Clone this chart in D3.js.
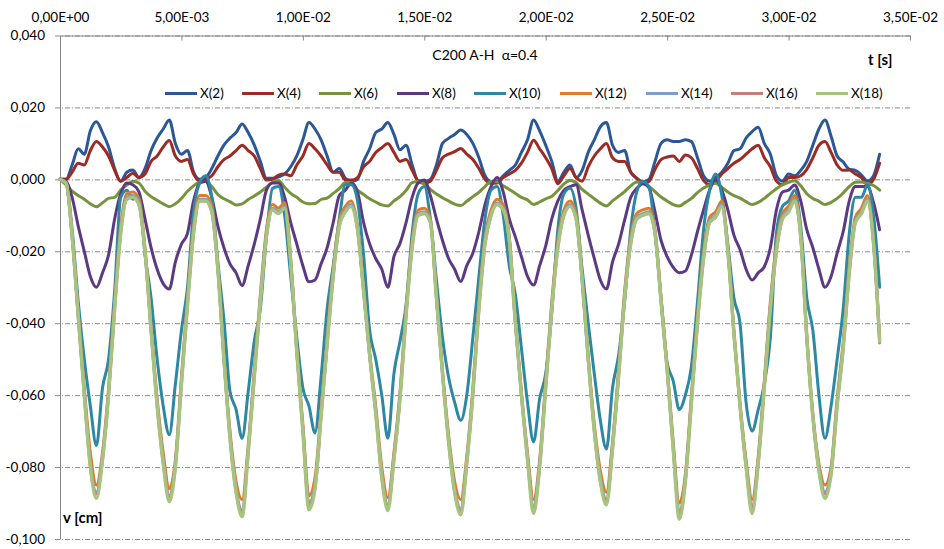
<!DOCTYPE html>
<html><head><meta charset="utf-8">
<script src="https://cdn.jsdelivr.net/npm/d3@7/dist/d3.min.js"></script>
<style>
body{margin:0;background:#fff}
svg{display:block}
text{font-family:Lato,"Open Sans",sans-serif;fill:#000}
</style></head>
<body><svg id="chart" width="944" height="549"></svg>
<script>
// ---------- data ----------
const xTicks = [0, 0.005, 0.01, 0.015, 0.02, 0.025, 0.03, 0.035];
const xTickLabels = ["0,00E+00","5,00E-03","1,00E-02","1,50E-02","2,00E-02","2,50E-02","3,00E-02","3,50E-02"];
const yTicks = [0.04, 0.02, 0, -0.02, -0.04, -0.06, -0.08, -0.1];
const yTickLabels = ["0,040","0,020","0,000","-0,020","-0,040","-0,060","-0,080","-0,100"];
const seriesNames = ["X(2)","X(4)","X(6)","X(8)","X(10)","X(12)","X(14)","X(16)","X(18)"];
const seriesColors = ["#2B5797","#9C2A25","#77933C","#5B3A82","#2D88A3","#E07B28","#7E9DCF","#C97D7B","#A7C47F"];
const titleText = "C200 A-H  \u03b1=0.4";

const t = [
0,0.00025,0.0005,0.00075,0.001,0.00125,0.0015,0.00175,0.002,0.00225,
0.0025,0.00275,0.003,0.00325,0.0035,0.00375,0.004,0.00425,0.0045,0.00475,
0.005,0.00525,0.0055,0.00575,0.006,0.00625,0.0065,0.00675,0.007,0.00725,
0.0075,0.00775,0.008,0.00825,0.0085,0.00875,0.009,0.00925,0.0095,0.00975,
0.01,0.01025,0.0105,0.01075,0.011,0.01125,0.0115,0.01175,0.012,0.01225,
0.0125,0.01275,0.013,0.01325,0.0135,0.01375,0.014,0.01425,0.0145,0.01475,
0.015,0.01525,0.0155,0.01575,0.016,0.01625,0.0165,0.01675,0.017,0.01725,
0.0175,0.01775,0.018,0.01825,0.0185,0.01875,0.019,0.01925,0.0195,0.01975,
0.02,0.02025,0.0205,0.02075,0.021,0.02125,0.0215,0.02175,0.022,0.02225,
0.0225,0.02275,0.023,0.02325,0.0235,0.02375,0.024,0.02425,0.0245,0.02475,
0.025,0.02525,0.0255,0.02575,0.026,0.02625,0.0265,0.02675,0.027,0.02725,
0.0275,0.02775,0.028,0.02825,0.0285,0.02875,0.029,0.02925,0.0295,0.02975,
0.03,0.03025,0.0305,0.03075,0.031,0.03125,0.0315,0.03175,0.032,0.03225,
0.0325,0.03275,0.033,0.03325,0.0335,0.03375];

const x2 = [
0,0,0.004,0.0085,0.007,0.0135,0.016,0.013,0.009,0.003,
-0.0005,0.002,0.0026,0.0005,0.003,0.008,0.0115,0.014,0.0165,0.010,
0.007,0.008,0.002,0,0.0005,0.003,0.0065,0.0095,0.0115,0.013,
0.0154,0.013,0.0095,0.005,0.0003,0.0003,0.0007,0.0015,0.0035,0.0065,
0.011,0.0158,0.014,0.011,0.0065,0.002,0.003,0.0003,-0.0005,0,
0.005,0.0085,0.013,0.014,0.0158,0.0125,0.0082,0.0095,0.004,-0.0004,
-0.0006,0,0.004,0.010,0.0114,0.0125,0.0137,0.0125,0.010,0.006,
0.001,-0.0006,-0.0006,0.001,0.0025,0.004,0.0075,0.011,0.0165,0.0135,
0.0095,0.005,-0.0005,0.002,0.004,0.0005,0.0025,0.0075,0.011,0.0146,
0.0158,0.0095,0.0075,0.008,0.002,0.0003,-0.0006,0,0.005,0.010,
0.011,0.0105,0.0105,0.011,0.0105,0.006,0.001,-0.0005,0.0005,0.002,
0.0045,0.008,0.0085,0.0115,0.0133,0.0145,0.010,0.007,0.001,-0.0005,
0.0015,0.001,0.0025,0.005,0.0095,0.014,0.0165,0.012,0.0065,0.0048,
0.0028,0.0025,0.0012,-0.0005,0.001,0.007];

const x4 = [
0,0,0.002,0.0045,0.004,0.008,0.0105,0.009,0.0065,0.0025,
-0.0005,0.0005,0.0017,0.0005,0.0015,0.005,0.0065,0.009,0.0108,0.0065,
0.005,0.0055,0.0015,-0.0005,0,0.001,0.0035,0.0055,0.0065,0.008,
0.0095,0.008,0.0065,0.003,-0.0002,0,0.0012,0.0015,0.001,0.004,
0.0065,0.010,0.0085,0.0065,0.004,0.002,0.002,-0.0002,-0.0002,0.0005,
0.0035,0.005,0.0075,0.0088,0.010,0.0075,0.005,0.0055,0.0025,-0.0005,
-0.0011,-0.0005,0.0025,0.006,0.007,0.0077,0.0086,0.007,0.0055,0.003,
0,-0.0011,-0.001,0.0005,0.0015,0.0025,0.0045,0.0075,0.0109,0.0085,
0.006,0.003,-0.0012,0.001,0.003,0.0005,-0.0005,0.0035,0.0065,0.0085,
0.010,0.006,0.005,0.005,0.002,0.0003,-0.0011,-0.0006,0.0028,0.0055,
0.0062,0.0065,0.005,0.0068,0.006,0.003,-0.0003,-0.0015,-0.0005,0.0015,
0.003,0.0045,0.0055,0.007,0.0085,0.0095,0.006,0.0035,-0.0005,-0.0015,
0.0005,0.0005,0.001,0.0028,0.006,0.0095,0.0105,0.0075,0.004,0.0025,
0.0026,0.0015,0.0005,-0.0015,0,0.0045];

const x6 = [
0,-0.0015,-0.0033,-0.0045,-0.0055,-0.0068,-0.0076,-0.0065,-0.0053,-0.005,
-0.003,-0.0016,-0.0005,-0.001,-0.0033,-0.0048,-0.0058,-0.0068,-0.0076,-0.0068,
-0.0053,-0.0033,-0.0018,-0.0008,-0.0006,-0.002,-0.0042,-0.0054,-0.0062,-0.0071,
-0.0068,-0.0056,-0.0046,-0.0035,-0.0022,-0.0008,-0.0004,-0.0022,-0.0039,-0.005,
-0.0063,-0.0068,-0.0067,-0.0056,-0.0052,-0.0039,-0.0026,-0.0009,-0.0009,-0.003,
-0.0042,-0.0054,-0.0063,-0.0071,-0.0074,-0.006,-0.0048,-0.0031,-0.0009,-0.0006,
-0.0013,-0.0028,-0.0041,-0.0051,-0.006,-0.0069,-0.0073,-0.0061,-0.0048,-0.0036,
-0.002,-0.0006,-0.0007,-0.0018,-0.0028,-0.0039,-0.005,-0.0057,-0.007,-0.0063,
-0.0054,-0.0047,-0.0031,-0.0013,-0.0003,-0.0009,-0.0028,-0.0041,-0.0054,-0.0066,
-0.0074,-0.006,-0.0047,-0.0034,-0.0018,-0.0007,-0.0009,-0.002,-0.0034,-0.0049,
-0.006,-0.007,-0.0074,-0.0064,-0.0053,-0.0037,-0.0024,-0.0016,-0.0011,-0.0022,
-0.0035,-0.0045,-0.0052,-0.0062,-0.007,-0.0064,-0.0053,-0.0039,-0.0026,-0.0015,
-0.0008,-0.0004,-0.0018,-0.004,-0.0053,-0.0061,-0.007,-0.0064,-0.0053,-0.0038,
-0.002,-0.0008,-0.0007,-0.0012,-0.0017,-0.003];

const x8 = [
0,-0.0005,-0.005,-0.013,-0.020,-0.027,-0.030,-0.026,-0.021,-0.011,
-0.004,-0.001,-0.0015,-0.0035,-0.011,-0.019,-0.025,-0.029,-0.0305,-0.023,
-0.018,-0.015,-0.006,-0.001,-0.0005,-0.005,-0.013,-0.019,-0.0235,-0.026,
-0.0295,-0.024,-0.018,-0.011,-0.003,-0.001,-0.001,-0.005,-0.012,-0.018,
-0.024,-0.0285,-0.028,-0.0235,-0.019,-0.012,-0.0045,-0.003,-0.001,-0.0035,
-0.012,-0.018,-0.022,-0.025,-0.030,-0.0215,-0.0178,-0.012,-0.005,-0.001,
-0.0002,-0.0045,-0.011,-0.017,-0.022,-0.025,-0.0284,-0.024,-0.0205,-0.0145,
-0.007,-0.002,0.0005,-0.0035,-0.011,-0.016,-0.0215,-0.027,-0.0294,-0.024,
-0.0185,-0.011,-0.006,-0.003,-0.002,-0.0015,-0.0085,-0.0155,-0.022,-0.028,
-0.0305,-0.023,-0.018,-0.0113,-0.005,-0.0025,-0.0012,-0.0023,-0.009,-0.017,
-0.0215,-0.0245,-0.026,-0.0255,-0.021,-0.0145,-0.0085,-0.003,0,-0.003,
-0.0085,-0.0155,-0.0195,-0.025,-0.028,-0.026,-0.0243,-0.019,-0.0085,-0.0035,
-0.003,-0.0016,-0.006,-0.014,-0.019,-0.025,-0.030,-0.027,-0.0205,-0.0145,
-0.006,-0.002,-0.002,-0.002,-0.0065,-0.014];

const x10 = [
0,-0.001,-0.014,-0.034,-0.050,-0.063,-0.074,-0.058,-0.050,-0.031,
-0.005,-0.003,-0.0055,-0.005,-0.021,-0.033,-0.050,-0.063,-0.071,-0.057,
-0.042,-0.030,-0.009,-0.001,0.001,-0.005,-0.023,-0.039,-0.059,-0.064,
-0.072,-0.059,-0.045,-0.036,-0.016,-0.0025,-0.002,-0.010,-0.027,-0.044,
-0.058,-0.063,-0.0705,-0.055,-0.036,-0.024,-0.011,-0.0015,-0.0015,-0.006,
-0.021,-0.042,-0.050,-0.060,-0.072,-0.054,-0.045,-0.035,-0.015,-0.004,
-0.002,-0.011,-0.028,-0.044,-0.055,-0.062,-0.067,-0.060,-0.044,-0.027,
-0.011,-0.003,-0.002,-0.010,-0.024,-0.032,-0.047,-0.062,-0.073,-0.061,
-0.054,-0.037,-0.014,-0.004,-0.0025,-0.008,-0.025,-0.040,-0.054,-0.067,
-0.075,-0.058,-0.049,-0.034,-0.014,-0.0035,-0.0006,-0.002,-0.015,-0.033,
-0.051,-0.056,-0.064,-0.060,-0.052,-0.034,-0.014,-0.003,0.0015,-0.0045,
-0.018,-0.033,-0.040,-0.062,-0.070,-0.064,-0.057,-0.044,-0.015,-0.0075,
-0.006,-0.003,-0.013,-0.033,-0.042,-0.060,-0.072,-0.063,-0.050,-0.036,
-0.015,-0.005,-0.005,-0.0016,-0.010,-0.030];

const x12 = [
0,-0.001,-0.015,-0.037,-0.058,-0.076,-0.085,-0.076,-0.058,-0.034,
-0.013,-0.004,-0.0035,-0.0055,-0.019,-0.041,-0.061,-0.076,-0.086,-0.078,
-0.055,-0.033,-0.013,-0.0045,-0.0045,-0.0075,-0.024,-0.049,-0.070,-0.084,
-0.089,-0.074,-0.053,-0.032,-0.014,-0.007,-0.008,-0.0065,-0.022,-0.047,
-0.068,-0.088,-0.083,-0.064,-0.044,-0.025,-0.0115,-0.0075,-0.006,-0.013,
-0.030,-0.048,-0.063,-0.080,-0.0885,-0.076,-0.059,-0.036,-0.017,-0.0085,
-0.008,-0.011,-0.032,-0.053,-0.071,-0.084,-0.089,-0.077,-0.058,-0.034,
-0.016,-0.0085,-0.0055,-0.007,-0.016,-0.039,-0.059,-0.076,-0.089,-0.078,
-0.056,-0.034,-0.017,-0.0085,-0.006,-0.0095,-0.027,-0.049,-0.068,-0.081,
-0.087,-0.073,-0.053,-0.031,-0.016,-0.0095,-0.0085,-0.008,-0.014,-0.033,
-0.052,-0.073,-0.090,-0.082,-0.060,-0.038,-0.020,-0.0105,-0.009,-0.006,
-0.019,-0.042,-0.062,-0.078,-0.089,-0.077,-0.056,-0.034,-0.018,-0.0095,
-0.0075,-0.0045,-0.015,-0.043,-0.065,-0.079,-0.085,-0.080,-0.061,-0.045,
-0.024,-0.0105,-0.008,-0.0045,-0.017,-0.044];

const x14 = [
0,-0.001,-0.016,-0.038,-0.059,-0.079,-0.087,-0.077,-0.059,-0.035,
-0.014,-0.005,-0.0045,-0.0065,-0.020,-0.042,-0.062,-0.078,-0.088,-0.079,
-0.056,-0.034,-0.014,-0.0055,-0.0055,-0.0085,-0.025,-0.050,-0.071,-0.086,
-0.092,-0.075,-0.054,-0.033,-0.015,-0.008,-0.009,-0.0075,-0.023,-0.048,
-0.069,-0.090,-0.085,-0.065,-0.045,-0.026,-0.0125,-0.0085,-0.007,-0.0135,
-0.031,-0.049,-0.064,-0.082,-0.0905,-0.077,-0.060,-0.037,-0.018,-0.0095,
-0.009,-0.0115,-0.033,-0.054,-0.072,-0.086,-0.0915,-0.078,-0.059,-0.035,
-0.017,-0.0095,-0.0065,-0.008,-0.0165,-0.040,-0.060,-0.077,-0.091,-0.079,
-0.057,-0.035,-0.018,-0.0095,-0.007,-0.0105,-0.028,-0.050,-0.069,-0.083,
-0.089,-0.074,-0.054,-0.032,-0.017,-0.0105,-0.0095,-0.009,-0.0145,-0.034,
-0.053,-0.074,-0.0925,-0.083,-0.061,-0.039,-0.021,-0.0115,-0.010,-0.007,
-0.0195,-0.043,-0.063,-0.079,-0.091,-0.078,-0.057,-0.035,-0.019,-0.0105,
-0.0085,-0.0055,-0.0155,-0.044,-0.066,-0.080,-0.087,-0.081,-0.062,-0.046,
-0.025,-0.0115,-0.009,-0.0055,-0.0175,-0.045];

const x16 = [
0,-0.001,-0.016,-0.038,-0.060,-0.080,-0.0875,-0.078,-0.060,-0.036,
-0.015,-0.0055,-0.005,-0.007,-0.020,-0.042,-0.063,-0.079,-0.0885,-0.080,
-0.057,-0.035,-0.015,-0.006,-0.006,-0.009,-0.025,-0.050,-0.072,-0.087,
-0.0925,-0.076,-0.055,-0.034,-0.016,-0.0085,-0.0095,-0.008,-0.023,-0.048,
-0.070,-0.0905,-0.086,-0.066,-0.046,-0.027,-0.013,-0.009,-0.0075,-0.014,
-0.031,-0.049,-0.065,-0.083,-0.091,-0.078,-0.061,-0.038,-0.019,-0.010,
-0.0095,-0.012,-0.033,-0.054,-0.073,-0.087,-0.092,-0.079,-0.060,-0.036,
-0.018,-0.010,-0.007,-0.0085,-0.017,-0.040,-0.060,-0.078,-0.0915,-0.080,
-0.058,-0.036,-0.019,-0.010,-0.0075,-0.011,-0.028,-0.050,-0.070,-0.084,
-0.0895,-0.075,-0.055,-0.033,-0.018,-0.011,-0.010,-0.0095,-0.015,-0.034,
-0.053,-0.075,-0.093,-0.084,-0.062,-0.040,-0.022,-0.012,-0.0105,-0.0075,
-0.020,-0.043,-0.063,-0.080,-0.0915,-0.079,-0.058,-0.036,-0.020,-0.011,
-0.009,-0.006,-0.016,-0.044,-0.066,-0.081,-0.0875,-0.082,-0.063,-0.047,
-0.026,-0.012,-0.0095,-0.006,-0.018,-0.0455];

const x18 = [
0,-0.001,-0.016,-0.038,-0.060,-0.080,-0.0887,-0.078,-0.060,-0.036,
-0.015,-0.0055,-0.005,-0.007,-0.020,-0.042,-0.063,-0.079,-0.0896,-0.080,
-0.057,-0.035,-0.015,-0.006,-0.006,-0.009,-0.025,-0.050,-0.072,-0.087,
-0.0938,-0.076,-0.055,-0.034,-0.016,-0.0085,-0.0095,-0.008,-0.023,-0.048,
-0.070,-0.0919,-0.086,-0.066,-0.046,-0.027,-0.013,-0.009,-0.0075,-0.014,
-0.031,-0.049,-0.065,-0.083,-0.0921,-0.078,-0.061,-0.038,-0.019,-0.010,
-0.0095,-0.012,-0.033,-0.054,-0.073,-0.087,-0.0933,-0.079,-0.060,-0.036,
-0.018,-0.010,-0.007,-0.0085,-0.017,-0.040,-0.060,-0.078,-0.0929,-0.080,
-0.058,-0.036,-0.019,-0.010,-0.0075,-0.011,-0.028,-0.050,-0.070,-0.084,
-0.0905,-0.075,-0.055,-0.033,-0.018,-0.011,-0.010,-0.0095,-0.015,-0.034,
-0.053,-0.075,-0.0945,-0.084,-0.062,-0.040,-0.022,-0.012,-0.0105,-0.0075,
-0.020,-0.043,-0.063,-0.080,-0.0929,-0.079,-0.058,-0.036,-0.020,-0.011,
-0.009,-0.006,-0.016,-0.044,-0.066,-0.081,-0.0887,-0.082,-0.063,-0.047,
-0.026,-0.012,-0.0095,-0.006,-0.018,-0.045];

const seriesValues = [x2, x4, x6, x8, x10, x12, x14, x16, x18];

// ---------- layout ----------
const plot = {left: 60, right: 910, top: 35.5, bottom: 539};
const legendX = [165, 242, 319, 397, 474, 560, 646, 731, 816];
const legendY = 93.5;

const svg = d3.select("#chart");
const x = d3.scaleLinear().domain([0, 0.035]).range([plot.left, plot.right]);
const y = d3.scaleLinear().domain([-0.1, 0.04]).range([plot.bottom, plot.top]);

// gridlines (dash-dot)
const grid = svg.append("g").attr("transform", `translate(${plot.left - 5},0)`)
  .call(d3.axisLeft(y).tickValues(yTicks).tickSize(-(plot.right - plot.left + 5)).tickFormat(""));
grid.select(".domain").remove();
grid.selectAll(".tick line").attr("stroke", "#8a8a8a").attr("stroke-width", 1)
  .attr("stroke-dasharray", "5,2,1,2");

// y axis
const yAxis = svg.append("g").attr("transform", `translate(${plot.left},0)`)
  .call(d3.axisLeft(y).tickValues(yTicks).tickSize(0).tickPadding(15)
    .tickFormat((d, i) => yTickLabels[i]));
yAxis.select(".domain").attr("stroke", "#868686").attr("stroke-width", 1);
yAxis.selectAll("text").style("font-size", "13.5px").attr("fill", "#000");

// x axis at top, ticks pointing down
const xAxis = svg.append("g").attr("transform", `translate(0,${plot.top})`)
  .call(d3.axisTop(x).tickValues(xTicks).tickSizeInner(-5).tickSizeOuter(0).tickPadding(14)
    .tickFormat((d, i) => xTickLabels[i]));
xAxis.select(".domain").attr("stroke", "#868686").attr("stroke-width", 1);
xAxis.selectAll(".tick line").attr("stroke", "#868686");
xAxis.selectAll("text").style("font-size", "13.5px").attr("fill", "#000");

// series lines
const line = d3.line().x((d, i) => x(t[i])).y(d => y(d)).curve(d3.curveMonotoneX);
seriesValues.forEach((vals, si) => {
  svg.append("path").datum(vals)
    .attr("fill", "none").attr("stroke", seriesColors[si])
    .attr("stroke-width", si === 8 ? 3.4 : 3).attr("stroke-linejoin", "round").attr("stroke-linecap", "round")
    .attr("d", line);
});

// title and axis names
svg.append("text").attr("x", 485).attr("y", 55).attr("dy", "0.35em")
  .attr("text-anchor", "middle").style("font-size", "14px").style("white-space", "pre")
  .text(titleText);
svg.append("text").attr("x", 868).attr("y", 60).attr("dy", "0.35em")
  .style("font-size", "15px").style("font-weight", "bold").text("t [s]");
svg.append("text").attr("x", 63).attr("y", 518).attr("dy", "0.35em")
  .style("font-size", "15px").style("font-weight", "bold").text("v [cm]");

// legend
const lg = svg.append("g");
seriesNames.forEach((name, i) => {
  lg.append("line").attr("x1", legendX[i]).attr("x2", legendX[i] + 32)
    .attr("y1", legendY).attr("y2", legendY)
    .attr("stroke", seriesColors[i]).attr("stroke-width", 3);
  lg.append("text").attr("x", legendX[i] + 35).attr("y", legendY).attr("dy", "0.35em")
    .style("font-size", "13.5px").text(name);
});
</script>
</body></html>
